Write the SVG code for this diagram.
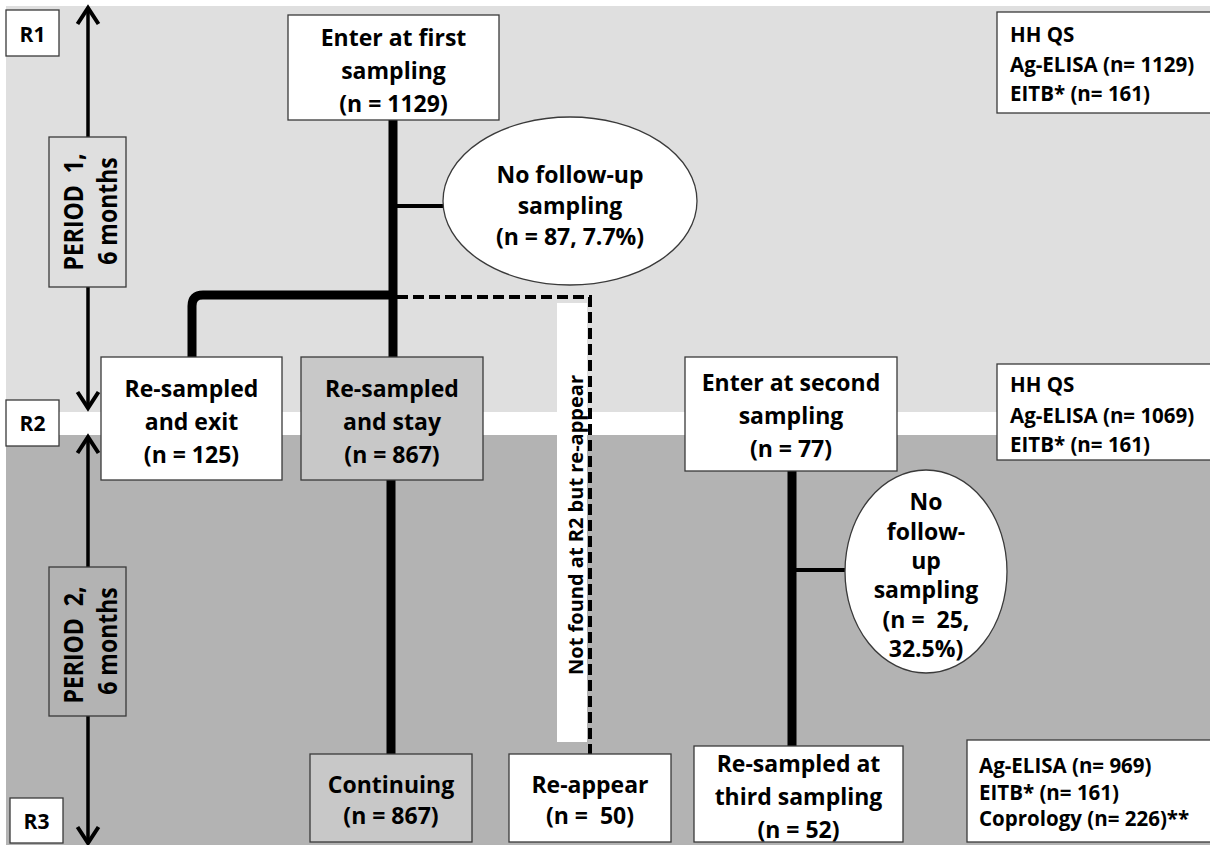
<svg xmlns="http://www.w3.org/2000/svg" width="1210" height="845" viewBox="0 0 1210 845">
<style>
text { font-family: "Open Sans", "Liberation Sans", sans-serif; font-weight: bold; fill: #000; }
.c { font-size: 23px; text-anchor: middle; }
.s { font-size: 20.5px; }
.r { font-size: 21px; text-anchor: middle; }
.box { fill: #fff; stroke: #3a3a3a; stroke-width: 1.3; }
.gbox { fill: #c8c8c8; stroke: #3a3a3a; stroke-width: 1.3; }
.pbox1 { fill: #dfdfdf; stroke: #3a3a3a; stroke-width: 1.3; }
.pbox2 { fill: #b3b3b3; stroke: #3a3a3a; stroke-width: 1.3; }
.ell { fill: #fff; stroke: #3a3a3a; stroke-width: 1.3; }
.thick { stroke: #000; stroke-width: 9; fill: none; stroke-linejoin: round; }
.thin { stroke: #000; stroke-width: 4; fill: none; }
.dash { stroke: #000; stroke-width: 4; fill: none; stroke-dasharray: 11 5; }
.axis { stroke: #000; stroke-width: 3.5; fill: none; marker-end: url(#chev); }
</style>
<defs>
<marker id="chev" viewBox="0 0 20 24" markerWidth="20" markerHeight="24" refX="17" refY="12" orient="auto" markerUnits="userSpaceOnUse" overflow="visible">
<path d="M1,1.5 L17,12 L1,22.5" fill="none" stroke="#000" stroke-width="4"/>
</marker>
</defs>

<g id="background">
<rect width="1210" height="845" fill="#fff"/>
<rect x="6" y="6" width="1204" height="406" fill="#dfdfdf"/>
<rect x="6" y="435" width="1204" height="410" fill="#b3b3b3"/>
</g>

<g id="label-not-found">
<rect x="557" y="303" width="30" height="439" fill="#fff"/>
<text transform="translate(583,525) rotate(-90)" style="font-size:20px;text-anchor:middle">Not found at R2 but re-appear</text>
</g>

<g id="connectors">
<path class="axis" d="M88,137 L88,8"/>
<path class="axis" d="M88,287 L88,408"/>
<path class="axis" d="M88,567 L88,437"/>
<path class="axis" d="M88,716 L88,843"/>
<path class="thick" d="M393,120 L393,357"/>
<path class="thick" d="M192,357 L192,306 Q192,295 203,295 L393,295"/>
<path class="thin" d="M393,206 L443,206"/>
<path class="dash" d="M397,297 L590,297 L590,754"/>
<path class="thick" d="M391,480 L391,754"/>
<path class="thick" d="M792,471 L792,746"/>
<path class="thin" d="M792,570 L845,570"/>
</g>

<g id="R1"><rect class="box" x="6" y="10" width="53" height="46"/><text class="r" x="32.5" y="42">R1</text></g>
<g id="R2"><rect class="box" x="6" y="400" width="53" height="46"/><text class="r" x="32.5" y="431">R2</text></g>
<g id="R3"><rect class="box" x="10" y="798" width="53" height="45"/><text class="r" x="36.5" y="829">R3</text></g>

<g id="period1">
<rect class="pbox1" x="49" y="137" width="77" height="150"/>
<text class="c" transform="translate(83,212) scale(1.18,1) rotate(-90)">PERIOD&#160; 1,</text>
<text class="c" transform="translate(117,211) scale(1.18,1) rotate(-90)">6 months</text>
</g>
<g id="period2">
<rect class="pbox2" x="49" y="567" width="77" height="149"/>
<text class="c" transform="translate(83,645) scale(1.18,1) rotate(-90)">PERIOD&#160; 2,</text>
<text class="c" transform="translate(117,641) scale(1.18,1) rotate(-90)">6 months</text>
</g>

<g id="enter-first">
<rect class="box" x="288" y="15" width="211" height="105"/>
<text class="c"><tspan x="393.5" y="46">Enter at first</tspan><tspan x="393.5" y="79">sampling</tspan><tspan x="393.5" y="112">(n = 1129)</tspan></text>
</g>

<g id="no-followup-1">
<ellipse class="ell" cx="570" cy="201" rx="127" ry="84"/>
<text class="c"><tspan x="570" y="183">No follow-up</tspan><tspan x="570" y="214">sampling</tspan><tspan x="570" y="245">(n = 87, 7.7%)</tspan></text>
</g>

<g id="resampled-exit">
<rect class="box" x="101" y="357" width="181" height="123"/>
<text class="c"><tspan x="191.5" y="397">Re-sampled</tspan><tspan x="191.5" y="430">and exit</tspan><tspan x="191.5" y="463">(n = 125)</tspan></text>
</g>

<g id="resampled-stay">
<rect class="gbox" x="301" y="357" width="182" height="123"/>
<text class="c"><tspan x="392" y="397">Re-sampled</tspan><tspan x="392" y="430">and stay</tspan><tspan x="392" y="463">(n = 867)</tspan></text>
</g>

<g id="enter-second">
<rect class="box" x="685" y="357" width="212" height="114"/>
<text class="c"><tspan x="791" y="391">Enter at second</tspan><tspan x="791" y="424">sampling</tspan><tspan x="791" y="457">(n = 77)</tspan></text>
</g>

<g id="no-followup-2">
<ellipse class="ell" cx="926" cy="571.5" rx="81" ry="101.5"/>
<text class="c"><tspan x="926" y="510">No</tspan><tspan x="926" y="540">follow-</tspan><tspan x="926" y="569">up</tspan><tspan x="926" y="598">sampling</tspan><tspan x="926" y="628">(n =&#160; 25,</tspan><tspan x="926" y="657">32.5%)</tspan></text>
</g>

<g id="continuing">
<rect class="gbox" x="310" y="754" width="162" height="88"/>
<text class="c"><tspan x="391" y="793">Continuing</tspan><tspan x="391" y="824">(n = 867)</tspan></text>
</g>

<g id="re-appear">
<rect class="box" x="509" y="754" width="162" height="88"/>
<text class="c"><tspan x="590" y="793">Re-appear</tspan><tspan x="590" y="824">(n =&#160; 50)</tspan></text>
</g>

<g id="resampled-third">
<rect class="box" x="694" y="746" width="209" height="96"/>
<text class="c"><tspan x="798.5" y="772">Re-sampled at</tspan><tspan x="798.5" y="805">third sampling</tspan><tspan x="798.5" y="838">(n = 52)</tspan></text>
</g>

<g id="tests-R1">
<rect class="box" x="997" y="12" width="220" height="101"/>
<text class="s"><tspan x="1010" y="42">HH QS</tspan><tspan x="1010" y="72">Ag-ELISA (n= 1129)</tspan><tspan x="1010" y="101">EITB* (n= 161)</tspan></text>
</g>

<g id="tests-R2">
<rect class="box" x="997" y="364" width="220" height="96"/>
<text class="s"><tspan x="1010" y="392">HH QS</tspan><tspan x="1010" y="423">Ag-ELISA (n= 1069)</tspan><tspan x="1010" y="452">EITB* (n= 161)</tspan></text>
</g>

<g id="tests-R3">
<rect class="box" x="967" y="740" width="250" height="102"/>
<text class="s"><tspan x="979" y="773">Ag-ELISA (n= 969)</tspan><tspan x="979" y="800">EITB* (n= 161)</tspan><tspan x="979" y="826">Coprology (n= 226)**</tspan></text>
</g>
</svg>
